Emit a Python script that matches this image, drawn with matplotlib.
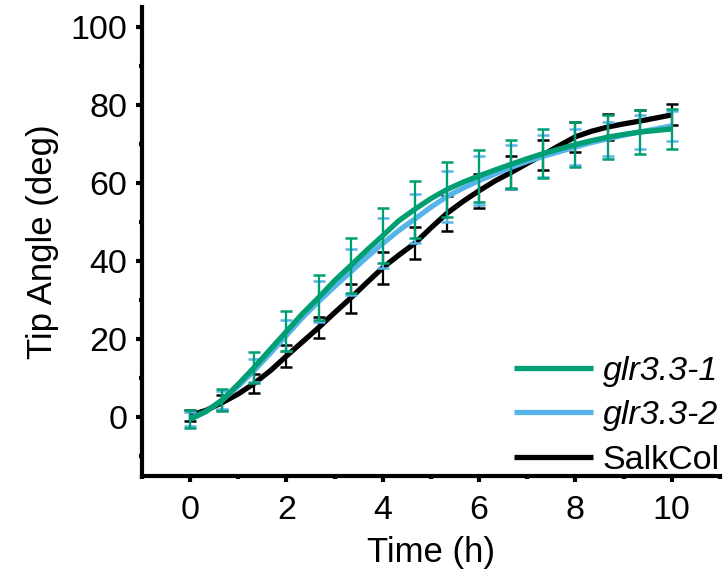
import matplotlib
matplotlib.use("Agg")
import matplotlib.pyplot as plt
from matplotlib.ticker import MultipleLocator

plt.rcParams['font.family'] = ['Liberation Sans', 'DejaVu Sans']

time = [0, 0.33, 0.67, 1.0, 1.33, 1.67, 2.0, 2.33, 2.67, 3.0, 3.33, 3.67, 4.0, 4.33,
        4.67, 5.0, 5.33, 5.67, 6.0, 6.33, 6.67, 7.0, 7.33, 7.67, 8.0, 8.33, 8.67, 9.0,
        9.33, 9.67, 10.0]

glr1 = [-0.5, 1.5, 4.5, 8.5, 12.8, 17.5, 22.0, 26.5, 30.7, 35.0, 38.8, 42.8, 46.5, 50.3,
        53.3, 56.0, 58.3, 60.2, 61.8, 63.3, 64.8, 66.2, 67.5, 68.7, 69.8, 70.8, 71.7, 72.4,
        73.0, 73.4, 73.8]
glr2 = [-0.3, 1.5, 4.5, 8.0, 12.0, 16.5, 21.0, 25.5, 29.7, 33.5, 37.2, 41.0, 44.5, 47.8,
        50.8, 53.8, 56.5, 58.7, 60.6, 62.3, 64.0, 65.5, 66.8, 68.0, 69.2, 70.3, 71.3, 72.2,
        73.0, 73.8, 74.6]
salk = [0.5, 1.8, 3.8, 6.0, 8.7, 12.0, 15.7, 19.3, 23.0, 26.8, 30.5, 34.5, 38.3, 41.5,
        44.6, 48.5, 52.2, 55.3, 58.0, 60.5, 62.7, 65.0, 67.2, 69.6, 71.8, 73.2, 74.3, 75.1,
        75.8, 76.6, 77.4]

# standard errors at every second time point (every 40 min)
err_glr1 = [2.3, 2.8, 3.9, 5.1, 5.7, 7.0, 7.0, 7.3, 7.0, 6.7, 6.2, 6.2, 5.8, 5.7, 5.7, 5.1]
err_glr2 = [1.8, 2.3, 3.0, 4.0, 5.3, 6.0, 6.4, 6.3, 6.5, 6.3, 5.6, 5.4, 4.5, 4.4, 4.4, 3.9]
err_salk = [1.5, 2.0, 2.5, 2.7, 2.8, 3.7, 4.1, 4.2, 4.4, 4.3, 4.2, 3.9, 3.9, 3.2, 2.8, 2.7]

labels = ['glr3.3-1', 'glr3.3-2', 'SalkCol']
colors = ['#009E73', '#56B4E9', '#000000']

fig = plt.figure(figsize=(7.26, 5.71), dpi=100)
ax = fig.add_axes([0.1956, 0.1664, 0.7961, 0.8213])

series = [(salk, err_salk, colors[2], labels[2]),
          (glr2, err_glr2, colors[1], labels[1]),
          (glr1, err_glr1, colors[0], labels[0])]
handles = {}
for z, (vals, errs, col, lab) in enumerate(series):
    tsub = time[::2]
    vsub = vals[::2]
    ax.errorbar(tsub, vsub, yerr=errs, fmt='none', ecolor=col, elinewidth=1.6,
                capsize=4.4, capthick=1.8, zorder=2 + z * 2)
    ln, = ax.plot(time, vals, color=col, lw=3.8, zorder=2 + z * 2 + 1,
                  solid_capstyle='butt', label=lab)
    handles[lab] = ln

ax.set_xlim(-1, 11)
ax.set_ylim(-15, 105)
ax.xaxis.set_major_locator(MultipleLocator(2))
ax.xaxis.set_minor_locator(MultipleLocator(1))
ax.yaxis.set_major_locator(MultipleLocator(20))
ax.yaxis.set_minor_locator(MultipleLocator(10))

for s in ['top', 'right']:
    ax.spines[s].set_visible(False)
for s in ['left', 'bottom']:
    ax.spines[s].set_linewidth(3.0)

ax.tick_params(which='major', direction='out', length=4.5, width=3.0,
               labelsize=24.5, pad=6)
ax.tick_params(axis='x', which='major', pad=9.5)
ax.tick_params(which='minor', direction='out', length=2.2, width=3.0)

ax.set_xlabel('Time (h)', fontsize=25, labelpad=7)
ax.set_ylabel('Tip Angle (deg)', fontsize=25, labelpad=8)

leg = ax.legend([handles[l] for l in labels], labels, loc='lower right',
                frameon=False, fontsize=24.5, handlelength=2.3, handletextpad=0.3,
                labelspacing=0.4, borderaxespad=0.0, borderpad=0.0,
                bbox_to_anchor=(1.0, 0.0))
for t in leg.get_texts()[:2]:
    t.set_fontstyle('italic')
for h in leg.get_lines():
    h.set_linewidth(3.8)

fig.savefig('out.png', dpi=100)
